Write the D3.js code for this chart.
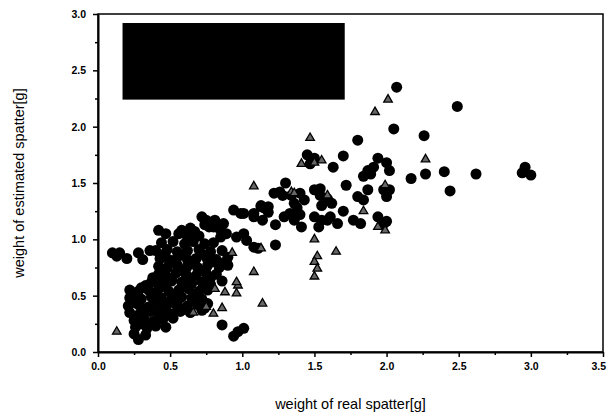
<!DOCTYPE html>
<html>
<head>
<meta charset="utf-8">
<script src="https://cdn.jsdelivr.net/npm/d3@7/dist/d3.min.js"></script>
<style>
  body { margin: 0; background: #fff; }
  svg { display: block; }
  .tick text { font-family: "Liberation Sans", Arial, sans-serif; font-weight: bold; font-size: 10.5px; }
  .axis-title { font-family: "Liberation Sans", Arial, sans-serif; font-size: 14.5px; }
</style>
</head>
<body>
<svg id="chart" width="609" height="419"></svg>
<script>
// weight of real spatter [g] vs weight of estimated spatter [g]
var circlePoints = [
  // left row
  [0.10, 0.88], [0.15, 0.88], [0.13, 0.85], [0.20, 0.83], [0.28, 0.88], [0.31, 0.82], [0.36, 0.90],
  // top of the dense cluster
  [0.42, 1.08], [0.47, 1.05], [0.56, 1.05], [0.58, 1.08], [0.64, 1.10], [0.67, 1.07],
  [0.74, 1.13], [0.77, 1.11], [0.81, 1.17], [0.82, 1.11], [0.87, 1.14],
  [0.94, 1.26], [0.99, 1.23], [1.08, 1.23], [1.13, 1.30], [1.18, 1.29],
  [0.85, 1.02], [0.89, 1.05], [0.96, 1.02], [1.01, 1.05], [1.03, 0.99],
  [0.72, 1.20], [0.75, 1.17], [0.80, 1.11], [0.85, 1.08], [0.70, 1.03], [0.62, 1.02],
  // dense cluster
  [0.44, 0.97], [0.52, 0.98], [0.60, 0.96], [0.66, 0.98], [0.74, 0.96], [0.80, 0.97],
  [0.40, 0.90], [0.48, 0.91], [0.55, 0.89], [0.62, 0.90], [0.70, 0.91], [0.78, 0.89], [0.86, 0.90],
  [0.43, 0.83], [0.49, 0.82], [0.55, 0.84], [0.62, 0.82], [0.68, 0.83], [0.75, 0.84], [0.82, 0.82], [0.90, 0.84],
  [0.46, 0.87], [0.59, 0.86], [0.72, 0.87], [0.52, 0.79], [0.65, 0.79], [0.79, 0.80], [0.87, 0.79],
  [0.42, 0.76], [0.48, 0.75], [0.55, 0.77], [0.62, 0.76], [0.69, 0.75], [0.76, 0.77], [0.84, 0.75], [0.90, 0.77],
  [0.45, 0.72], [0.58, 0.72], [0.72, 0.72], [0.38, 0.66], [0.51, 0.65], [0.64, 0.65], [0.78, 0.66],
  [0.42, 0.69], [0.47, 0.68], [0.54, 0.70], [0.61, 0.69], [0.68, 0.68], [0.75, 0.70], [0.82, 0.69],
  [0.30, 0.57], [0.37, 0.62], [0.44, 0.61], [0.51, 0.63], [0.58, 0.62], [0.65, 0.61], [0.72, 0.62], [0.78, 0.60], [0.86, 0.63],
  [0.33, 0.59], [0.47, 0.58], [0.61, 0.58], [0.75, 0.58], [0.25, 0.51], [0.40, 0.52], [0.53, 0.51], [0.67, 0.51],
  [0.22, 0.55], [0.28, 0.54], [0.35, 0.55], [0.42, 0.56], [0.49, 0.54], [0.56, 0.55], [0.63, 0.56], [0.70, 0.54], [0.76, 0.55],
  [0.22, 0.48], [0.30, 0.47], [0.37, 0.49], [0.44, 0.48], [0.51, 0.47], [0.58, 0.49], [0.65, 0.48], [0.72, 0.47],
  [0.25, 0.44], [0.39, 0.45], [0.55, 0.44], [0.68, 0.45], [0.32, 0.38], [0.46, 0.38], [0.60, 0.38], [0.74, 0.39],
  [0.21, 0.41], [0.28, 0.42], [0.35, 0.40], [0.42, 0.41], [0.48, 0.42], [0.55, 0.40], [0.62, 0.41], [0.69, 0.42], [0.76, 0.43],
  [0.22, 0.35], [0.29, 0.34], [0.36, 0.36], [0.43, 0.35], [0.50, 0.34], [0.57, 0.36], [0.64, 0.35], [0.72, 0.37],
  [0.25, 0.28], [0.32, 0.29], [0.38, 0.27], [0.45, 0.29], [0.52, 0.30], [0.28, 0.31], [0.42, 0.32],
  [0.26, 0.22], [0.34, 0.21], [0.40, 0.23], [0.47, 0.22], [0.30, 0.25],
  [0.25, 0.16], [0.33, 0.15], [0.28, 0.11],
  // the lone low group near 1.0
  [0.86, 0.24], [0.94, 0.14], [0.97, 0.18], [1.01, 0.21],
  [1.08, 0.93], [1.11, 0.92], [1.23, 0.95],
  // middle band
  [1.13, 1.29], [1.15, 1.28], [1.18, 1.24], [1.23, 1.13], [1.01, 1.23], [1.08, 1.20], [1.14, 1.17],
  [1.29, 1.20], [1.33, 1.23], [1.36, 1.17], [1.40, 1.22], [1.41, 1.11],
  [1.22, 1.41], [1.26, 1.42], [1.28, 1.39], [1.34, 1.39], [1.40, 1.41], [1.43, 1.35], [1.36, 1.32], [1.38, 1.28],
  [1.30, 1.50],
  [1.50, 1.44], [1.54, 1.45], [1.59, 1.36], [1.62, 1.32], [1.55, 1.30], [1.54, 1.39],
  [1.50, 1.20], [1.55, 1.17], [1.61, 1.20], [1.66, 1.14], [1.53, 1.11], [1.59, 1.17],
  [1.72, 1.48], [1.70, 1.25], [1.80, 1.38], [1.87, 1.44], [1.84, 1.35], [1.98, 1.44], [2.00, 1.38], [2.02, 1.44],
  [1.77, 1.17], [1.82, 1.14], [1.94, 1.20], [1.97, 1.14], [2.00, 1.16], [1.98, 1.14],
  [1.45, 1.75], [1.50, 1.72], [1.48, 1.70], [1.47, 1.67],
  [1.70, 1.74], [1.63, 1.64],
  [1.94, 1.72], [2.00, 1.68], [1.87, 1.61], [1.84, 1.56], [1.91, 1.64], [1.89, 1.58], [2.02, 1.61],
  [1.80, 1.88],
  // upper right
  [2.07, 2.35], [2.05, 1.98], [2.26, 1.92], [2.49, 2.18],
  [2.27, 1.58], [2.40, 1.60], [2.62, 1.58], [2.17, 1.54], [2.44, 1.43],
  [2.96, 1.64], [2.94, 1.59], [3.00, 1.57]
];

var trianglePoints = [
  [0.13, 0.18],
  [0.66, 0.35], [0.75, 0.40], [0.80, 0.34], [0.86, 0.39],
  [0.81, 0.56], [0.88, 0.53], [0.97, 0.59], [0.96, 0.52], [0.96, 0.62],
  [1.08, 0.71], [1.14, 0.43],
  [0.93, 0.88], [1.13, 0.92],
  [1.08, 1.47], [1.34, 1.42], [1.36, 1.41], [1.59, 1.39],
  [1.41, 1.67], [1.50, 1.68], [1.55, 1.70], [1.47, 1.90],
  [1.50, 1.00], [1.52, 0.85], [1.65, 0.89], [1.50, 0.80], [1.52, 0.74], [1.50, 0.67],
  [1.84, 1.25], [1.94, 1.11], [1.99, 1.08], [1.99, 1.48],
  [2.27, 1.71], [1.92, 2.13], [2.01, 2.24]
];

var xTicks = [0, 0.5, 1.0, 1.5, 2.0, 2.5, 3.0, 3.5];
var yTicks = [0, 0.5, 1.0, 1.5, 2.0, 2.5, 3.0];
var xTitle = 'weight of real spatter[g]';
var yTitle = 'weight of estimated spatter[g]';

var svg = d3.select('#chart'),
    margin = { top: 14, right: 6, bottom: 67, left: 98 },
    width = 609 - margin.left - margin.right,
    height = 419 - margin.top - margin.bottom;

var g = svg.append('g').attr('transform', 'translate(' + margin.left + ',' + margin.top + ')');

var x = d3.scaleLinear().domain([0, 3.5]).range([0, width]);
var y = d3.scaleLinear().domain([0, 3.0]).range([height, 0]);

// minor ticks every 0.25
g.append('g')
  .attr('transform', 'translate(0,' + height + ')')
  .call(d3.axisBottom(x).tickValues(d3.range(0.25, 3.5, 0.5)).tickSize(3).tickFormat(''))
  .call(function (s) { s.select('.domain').remove(); });
g.append('g')
  .call(d3.axisLeft(y).tickValues(d3.range(0.25, 3.0, 0.5)).tickSize(3).tickFormat(''))
  .call(function (s) { s.select('.domain').remove(); });

// frame
g.append('rect')
  .attr('width', width).attr('height', height)
  .attr('fill', 'none').attr('stroke', '#000').attr('stroke-width', 1.5);

var xAxis = g.append('g')
  .attr('transform', 'translate(0,' + height + ')')
  .call(d3.axisBottom(x).tickValues(xTicks).tickSize(5).tickSizeOuter(0).tickPadding(6).tickFormat(d3.format('.1f')));
var yAxis = g.append('g')
  .call(d3.axisLeft(y).tickValues(yTicks).tickSize(5).tickSizeOuter(0).tickPadding(7).tickFormat(d3.format('.1f')));
xAxis.select('.domain').attr('stroke-width', 2);
yAxis.select('.domain').attr('stroke-width', 2);
g.selectAll('.tick line').attr('stroke-width', 1.5);
// last x label sits against the page edge; keep it inside the picture
xAxis.selectAll('.tick text').filter(function (d) { return d === 3.5; }).attr('text-anchor', 'end').attr('dx', '0.25em');

// blacked-out legend box
g.append('rect')
  .attr('x', x(0.17)).attr('y', y(2.92))
  .attr('width', x(1.71) - x(0.17)).attr('height', y(2.24) - y(2.92))
  .attr('fill', '#000');

// circles
g.append('g').selectAll('circle')
  .data(circlePoints)
  .enter().append('circle')
  .attr('cx', function (d) { return x(d[0]); })
  .attr('cy', function (d) { return y(d[1]); })
  .attr('r', 5.5)
  .attr('fill', '#000');

// triangles
var tri = d3.symbol().type(d3.symbolTriangle).size(32);
g.append('g').selectAll('path')
  .data(trianglePoints)
  .enter().append('path')
  .attr('d', tri)
  .attr('transform', function (d) { return 'translate(' + x(d[0]) + ',' + y(d[1]) + ')'; })
  .attr('fill', '#666')
  .attr('stroke', '#000')
  .attr('stroke-width', 1.3);

// axis titles
svg.append('text')
  .attr('class', 'axis-title')
  .attr('x', margin.left + x(1.75)).attr('y', 409)
  .attr('text-anchor', 'middle')
  .text(xTitle);
svg.append('text')
  .attr('class', 'axis-title')
  .attr('transform', 'translate(24,' + (margin.top + height / 2) + ') rotate(-90)')
  .attr('text-anchor', 'middle')
  .text(yTitle);
</script>
</body>
</html>
